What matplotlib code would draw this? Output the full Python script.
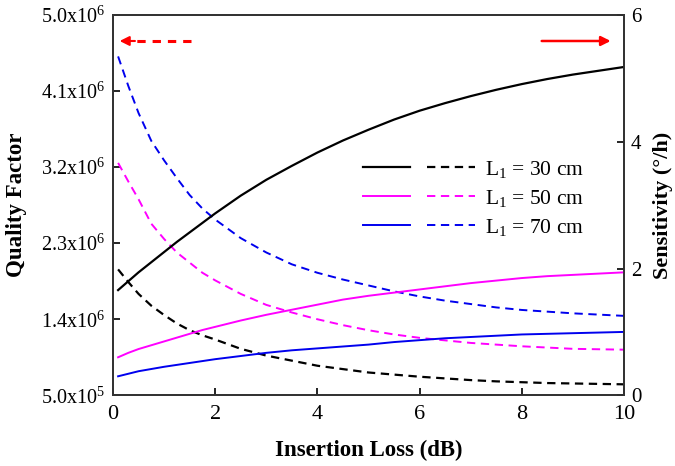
import matplotlib
matplotlib.use("Agg")
import matplotlib.pyplot as plt
from matplotlib.legend_handler import HandlerTuple
from matplotlib.ticker import FixedLocator, FixedFormatter

plt.rcParams['font.family'] = ['Liberation Serif', 'DejaVu Serif']
plt.rcParams['mathtext.fontset'] = 'custom'
plt.rcParams['mathtext.rm'] = 'Liberation Serif'
plt.rcParams['mathtext.it'] = 'Liberation Serif:italic'
plt.rcParams['mathtext.bf'] = 'Liberation Serif:bold'
plt.rcParams['lines.scale_dashes'] = False

# insertion loss (dB)
loss = [0.1, 0.3, 0.5, 0.75, 1, 1.25, 1.5, 1.75, 2, 2.5, 3, 3.5, 4, 4.5, 5,
        5.5, 6, 6.5, 7, 7.5, 8, 8.5, 9, 9.5, 10]

# quality factor (x1e6), dashed, left axis
q_30 = [1.99, 1.84, 1.70, 1.56, 1.45, 1.35, 1.27, 1.21, 1.16, 1.05, 0.97, 0.91, 0.85,
        0.81, 0.77, 0.745, 0.72, 0.70, 0.68, 0.665, 0.655, 0.645, 0.64, 0.635, 0.63]
q_50 = [3.25, 3.03, 2.82, 2.53, 2.35, 2.19, 2.07, 1.95, 1.86, 1.70, 1.57, 1.48, 1.40,
        1.33, 1.27, 1.22, 1.18, 1.15, 1.12, 1.10, 1.08, 1.065, 1.05, 1.045, 1.04]
q_70 = [4.51, 4.16, 3.84, 3.51, 3.28, 3.07, 2.87, 2.71, 2.58, 2.36, 2.19, 2.05, 1.95,
        1.87, 1.80, 1.73, 1.67, 1.62, 1.58, 1.54, 1.51, 1.49, 1.47, 1.455, 1.44]

# sensitivity (deg/h), solid, right axis
s_30 = [1.66, 1.80, 1.94, 2.10, 2.26, 2.42, 2.57, 2.72, 2.87, 3.15, 3.40, 3.62, 3.83,
        4.02, 4.19, 4.35, 4.49, 4.61, 4.72, 4.82, 4.91, 4.99, 5.06, 5.12, 5.18]
s_50 = [0.60, 0.67, 0.73, 0.79, 0.85, 0.91, 0.97, 1.03, 1.08, 1.18, 1.27, 1.35, 1.43,
        1.51, 1.57, 1.62, 1.67, 1.72, 1.77, 1.81, 1.85, 1.88, 1.90, 1.92, 1.94]
s_70 = [0.30, 0.34, 0.38, 0.415, 0.45, 0.48, 0.51, 0.54, 0.57, 0.62, 0.67, 0.71, 0.74,
        0.77, 0.80, 0.84, 0.87, 0.90, 0.92, 0.94, 0.96, 0.97, 0.98, 0.99, 1.00]

labels = ['L$_1$ = 30 cm', 'L$_1$ = 50 cm', 'L$_1$ = 70 cm']
colors = ['black', '#ff00ff', '#0000ee']

q_ticks = [0.5e6, 1.4e6, 2.3e6, 3.2e6, 4.1e6, 5.0e6]
q_ticklabels = ['5.0x10$^{5}$', '1.4x10$^{6}$', '2.3x10$^{6}$', '3.2x10$^{6}$',
                '4.1x10$^{6}$', '5.0x10$^{6}$']

# axis-pointer arrows (x range, height on the sensitivity axis)
left_arrow = (1.52, 0.13)
right_arrow = (8.39, 9.74)
arrow_y = 5.59

fig = plt.figure(figsize=(6.75, 4.66), dpi=100)
ax = fig.add_axes([0.1674, 0.1517, 0.757, 0.8161])
ax2 = ax.twinx()

dashed, solid = [], []
for q, s, c, lw in zip([q_30, q_50, q_70], [s_30, s_50, s_70], colors, [1.6, 1.4, 1.4]):
    d, = ax.plot(loss, [v * 1e6 for v in q], color=c, lw=lw, dashes=(6, 4))
    l, = ax2.plot(loss, s, color=c, lw=lw)
    dashed.append(d)
    solid.append(l)

ax.set_xlim(0, 10)
ax.set_ylim(0.5e6, 5.0e6)
ax2.set_ylim(0, 6)
ax.set_xticks([0, 2, 4, 6, 8, 10])
ax.yaxis.set_major_locator(FixedLocator(q_ticks))
ax.yaxis.set_major_formatter(FixedFormatter(q_ticklabels))
ax2.set_yticks([0, 2, 4, 6])

ax.tick_params(axis='x', direction='in', length=5, width=1.2, labelsize=16, pad=7)
ax.tick_params(axis='y', direction='in', length=5, width=1.2, labelsize=14.5, pad=6)
ax2.tick_params(axis='y', direction='in', length=5, width=1.2, labelsize=15, pad=5)
for a in (ax, ax2):
    for sp in a.spines.values():
        sp.set_linewidth(1.3)
        sp.set_color('#333333')

ax.set_xlabel('Insertion Loss (dB)', fontsize=16.5, fontweight='bold')
ax.xaxis.set_label_coords(0.5, -0.118)
ax.set_ylabel('Quality Factor', fontsize=16.5, fontweight='bold')
ax.yaxis.set_label_coords(-0.168, 0.5)
ax2.set_ylabel('Sensitivity (°/h)', fontsize=16, fontweight='bold')
ax2.yaxis.set_label_coords(1.056, 0.5)

# dashed arrow -> left axis
ax2.plot([left_arrow[0], left_arrow[1] + 0.25], [arrow_y, arrow_y],
         color='red', lw=2.2, dashes=(6, 5))
ax2.annotate('', xy=(left_arrow[1], arrow_y), xytext=(left_arrow[1] + 0.3, arrow_y),
             arrowprops=dict(arrowstyle='-|>', color='red', lw=1.5,
                             mutation_scale=14, shrinkA=0, shrinkB=0))
# solid arrow -> right axis
ax2.annotate('', xy=(right_arrow[1], arrow_y), xytext=(right_arrow[0], arrow_y),
             arrowprops=dict(arrowstyle='-|>', color='red', lw=1.8,
                             mutation_scale=14, shrinkA=0, shrinkB=0))

ax2.legend([(l, d) for l, d in zip(solid, dashed)], labels,
           handler_map={tuple: HandlerTuple(ndivide=None, pad=0.8)},
           loc='center left', bbox_to_anchor=(0.4887, 0.518), borderaxespad=0,
           borderpad=0, frameon=False, fontsize=15.5, handlelength=5.2,
           handletextpad=0.5, labelspacing=0.38)

fig.savefig('out.png', dpi=100)
